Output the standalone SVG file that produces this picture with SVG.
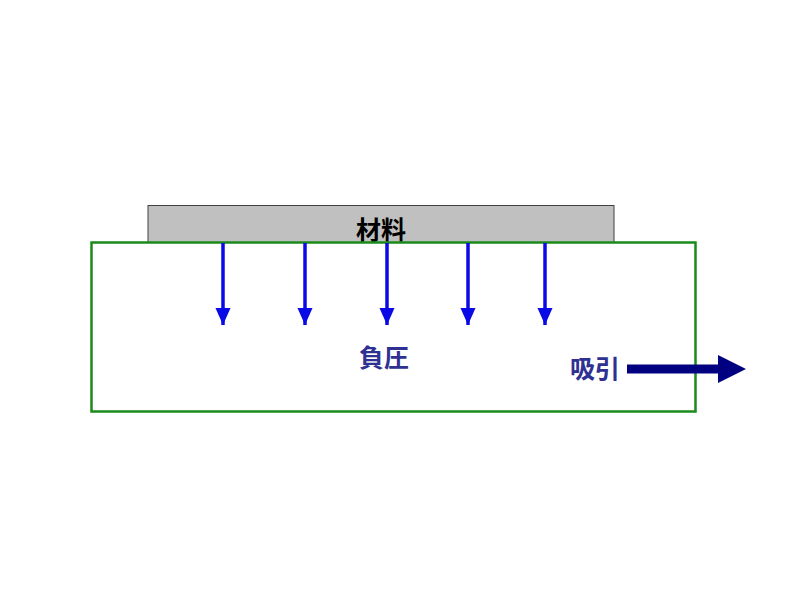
<svg xmlns="http://www.w3.org/2000/svg" width="800" height="600" viewBox="0 0 800 600">
<style>
.lbl{font-family:"Liberation Sans","Noto Sans CJK JP",sans-serif;font-weight:bold;font-size:25px;text-anchor:middle}
.down{stroke:#0a0ae6;stroke-width:3.5;fill:none}
</style>
<defs>
<marker id="ah" markerUnits="userSpaceOnUse" markerWidth="18" markerHeight="18" viewBox="0 0 18 18" refX="17" refY="9" orient="auto">
<path d="M0,1.5 L17,9 L0,16.5 Z" fill="#0a0ae6"/>
</marker>
</defs>
<rect width="800" height="600" fill="#fff"/>
<g id="material">
<rect x="148" y="205.5" width="466" height="37" fill="#c0c0c0" stroke="#404040" stroke-width="1"/>
<text class="lbl" x="381" y="239" fill="#000">材料</text>
</g>
<g id="chamber">
<rect x="91.5" y="242.5" width="604" height="169" fill="none" stroke="#1a8a1a" stroke-width="2.5"/>
<text class="lbl" x="384" y="367" fill="#2e3192">負圧</text>
</g>
<g id="suction">
<text class="lbl" x="595" y="378" fill="#2e3192">吸引</text>
</g>
<g id="connectors">
<line class="down" x1="223" y1="243" x2="223" y2="325" marker-end="url(#ah)"/>
<line class="down" x1="305" y1="243" x2="305" y2="325" marker-end="url(#ah)"/>
<line class="down" x1="387" y1="243" x2="387" y2="325" marker-end="url(#ah)"/>
<line class="down" x1="468" y1="243" x2="468" y2="325" marker-end="url(#ah)"/>
<line class="down" x1="545" y1="243" x2="545" y2="325" marker-end="url(#ah)"/>
<path d="M627,364.5 L718,364.5 L718,355 L746,369 L718,383 L718,373.5 L627,373.5 Z" fill="#000080"/>
</g>
</svg>
